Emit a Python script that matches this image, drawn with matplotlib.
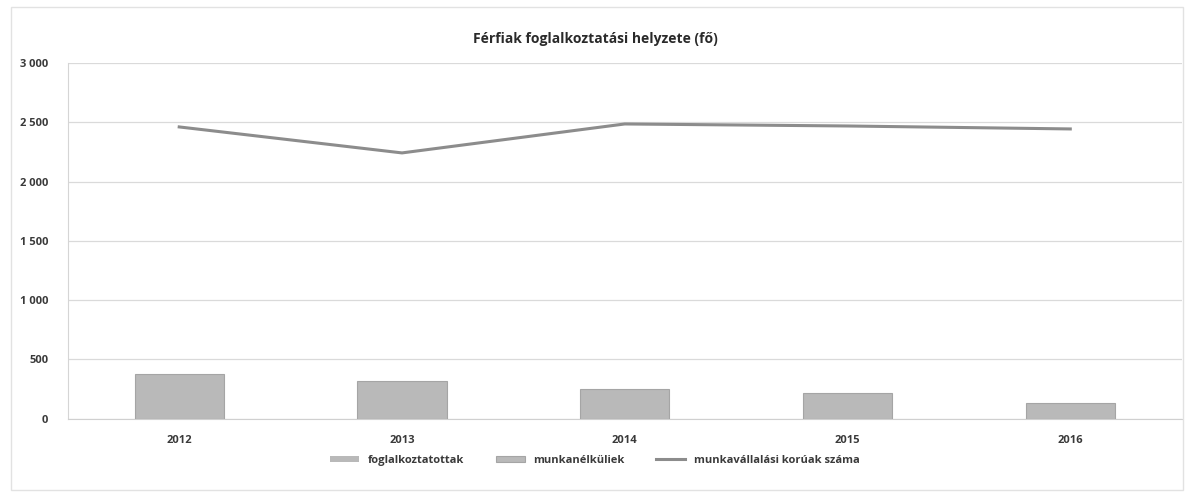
import numpy as np
from matplotlib import pyplot as plt
from matplotlib import font_manager
from matplotlib.patches import Rectangle
from matplotlib.ticker import FuncFormatter

# pick a family that really has a bold face installed
bold_families = {f.name for f in font_manager.fontManager.ttflist if f.weight in (700, 'bold')}
family = 'DejaVu Sans'
for name in ['Open Sans', 'Roboto', 'Noto Sans', 'Liberation Sans']:
    if name in bold_families:
        family = name
        break
plt.rcParams['font.family'] = [family, 'DejaVu Sans']

# data
years = ['2012', '2013', '2014', '2015', '2016']
foglalkoztatottak = [0, 0, 0, 0, 0]
munkanelkuliek = [379, 320, 253, 219, 135]
munkavallalasi_koruak = [2460, 2241, 2485, 2468, 2443]

bar_color = '#b9b9b9'
line_color = '#8c8c8c'
text_color = '#3a3a3a'

fig = plt.figure(figsize=(11.9, 4.95), dpi=100)
ax = fig.add_axes([0.057, 0.154, 0.936, 0.719])

x = np.arange(len(years))
b1 = ax.bar(x, foglalkoztatottak, width=0.4, color=bar_color, label='foglalkoztatottak')
b2 = ax.bar(x, munkanelkuliek, width=0.4, bottom=foglalkoztatottak, color=bar_color,
            edgecolor='#a5a5a5', linewidth=0.8, label='munkanélküliek', zorder=3)
l1, = ax.plot(x, munkavallalasi_koruak, color=line_color, linewidth=2.2,
              label='munkavállalási korúak száma', zorder=4)

ax.set_xlim(-0.5, len(years) - 0.5)
ax.set_ylim(0, 3000)
ax.set_yticks(range(0, 3001, 500))
ax.yaxis.set_major_formatter(FuncFormatter(lambda v, p: f'{int(v):,}'.replace(',', ' ')))
ax.set_xticks(x)
ax.set_xticklabels(years)
ax.tick_params(axis='both', length=0, labelsize=8, colors=text_color, pad=12)
for lab in ax.get_xticklabels() + ax.get_yticklabels():
    lab.set_fontweight('bold')
ax.tick_params(axis='y', pad=14)

ax.grid(axis='y', color='#dadada', linewidth=0.9, zorder=0)
ax.set_axisbelow(True)
for s in ['top', 'right']:
    ax.spines[s].set_visible(False)
ax.spines['left'].set_color('#d5d5d5')
ax.spines['bottom'].set_color('#d0d0d0')

fig.text(0.5, 0.922, 'Férfiak foglalkoztatási helyzete (fő)', ha='center', va='center',
         fontsize=10, fontweight='bold', color='#2a2a2a')

leg = fig.legend([b1, b2, l1], ['foglalkoztatottak', 'munkanélküliek', 'munkavállalási korúak száma'],
                 loc='center', bbox_to_anchor=(0.5, 0.07), ncol=3, frameon=False,
                 fontsize=8, handlelength=2.6, handleheight=0.5, columnspacing=2.8,
                 labelcolor=text_color)
for t in leg.get_texts():
    t.set_fontweight('bold')

# faint outer frame of the chart area
fig.add_artist(Rectangle((0.009, 0.01), 0.985, 0.975, transform=fig.transFigure,
                         fill=False, edgecolor='#e2e2e2', linewidth=1.0))

plt.savefig('out.png', dpi=100)
